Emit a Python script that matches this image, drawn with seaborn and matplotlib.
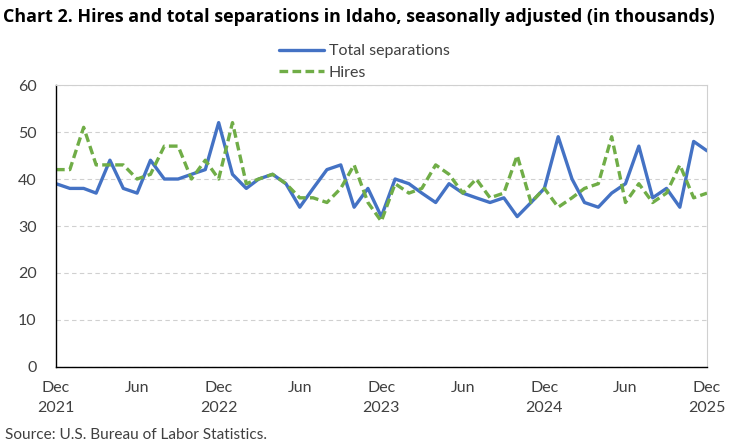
import pandas as pd
import matplotlib.pyplot as plt
import seaborn as sns

# -----------------------------------
# Data (in thousands)
# -----------------------------------
months = pd.date_range("2021-12-01", "2025-12-01", freq="MS")

separations = [39, 38, 38, 37, 44, 38, 37, 44, 40, 40, 41, 42, 52, 41, 38, 40, 41,
               39, 34, 38, 42, 43, 34, 38, 32, 40, 39, 37, 35, 39, 37, 36, 35, 36,
               32, 35, 38, 49, 40, 35, 34, 37, 39, 47, 36, 38, 34, 48, 46]

hires = [42, 42, 51, 43, 43, 43, 40, 41, 47, 47, 40, 44, 40, 52, 39, 40, 41,
         39, 36, 36, 35, 38, 43, 35, 31, 39, 37, 38, 43, 41, 37, 40, 36, 37,
         45, 35, 38, 34, 36, 38, 39, 49, 35, 39, 35, 37, 43, 36, 37]

series_names = ["Total separations", "Hires"]
y_ticks = [0, 10, 20, 30, 40, 50, 60]

df = pd.DataFrame({"Month": months,
                   "Total separations": separations,
                   "Hires": hires})
long_df = df.melt(id_vars="Month", var_name="Series", value_name="Value")

# -----------------------------------
# Plot
# -----------------------------------
sns.set_theme(style="white")
plt.rcParams["font.family"] = ["Lato", "DejaVu Sans"]

fig, ax = plt.subplots(figsize=(7.5, 4.47), dpi=100)
fig.subplots_adjust(left=0.0747, right=0.9427, top=0.8098, bottom=0.179)

sns.lineplot(
    data=long_df,
    x="Month",
    y="Value",
    hue="Series",
    style="Series",
    hue_order=series_names,
    style_order=series_names,
    palette={"Total separations": "#4472C4", "Hires": "#70AD47"},
    dashes={"Total separations": "", "Hires": (2.6, 1.3)},
    linewidth=2.4,
    ax=ax,
)

ax.set_xlim(months[0], months[-1])
ax.set_ylim(0, 60)
ax.set_yticks(y_ticks)
ax.set_yticklabels([str(v) for v in y_ticks], fontsize=11.5, color="#404040")

tick_labels = []
for m in months:
    if m.month == 12:
        tick_labels.append(f"Dec\n{m.year}")
    elif m.month == 6:
        tick_labels.append("Jun")
    else:
        tick_labels.append("")
ax.set_xticks(months)
ax.set_xticklabels(tick_labels, fontsize=11.5, color="#404040", linespacing=1.6)

ax.tick_params(axis="x", direction="out", length=4, width=0.8, color="black", pad=6)
ax.tick_params(axis="y", length=0, pad=14)

ax.set_xlabel("")
ax.set_ylabel("")

ax.yaxis.grid(True, linestyle=(0, (4, 3)), color="#D0D0D0", linewidth=0.8)
ax.set_axisbelow(True)

for side in ["top", "right"]:
    ax.spines[side].set_color("#D0D0D0")
    ax.spines[side].set_linewidth(0.8)
for side in ["left", "bottom"]:
    ax.spines[side].set_color("black")
    ax.spines[side].set_linewidth(1.0)

handles, labels = ax.get_legend_handles_labels()
ax.get_legend().remove()
fig.legend(
    handles,
    labels,
    loc="upper left",
    bbox_to_anchor=(0.362, 0.919),
    frameon=False,
    fontsize=11.5,
    handlelength=2.8,
    handletextpad=0.3,
    labelspacing=0.45,
    borderpad=0,
    labelcolor="#404040",
)

fig.text(0.004, 1 - 17 / 447, "Chart 2. Hires and total separations in Idaho, seasonally adjusted (in thousands)",
         fontsize=12.9, fontweight="bold", va="center", ha="left", color="black",
         family=["Open Sans", "DejaVu Sans"])
fig.text(5 / 750, 1 - 435 / 447, "Source: U.S. Bureau of Labor Statistics.",
         fontsize=11.1, va="center", ha="left", color="#404040")

plt.savefig("out.png", dpi=100)
